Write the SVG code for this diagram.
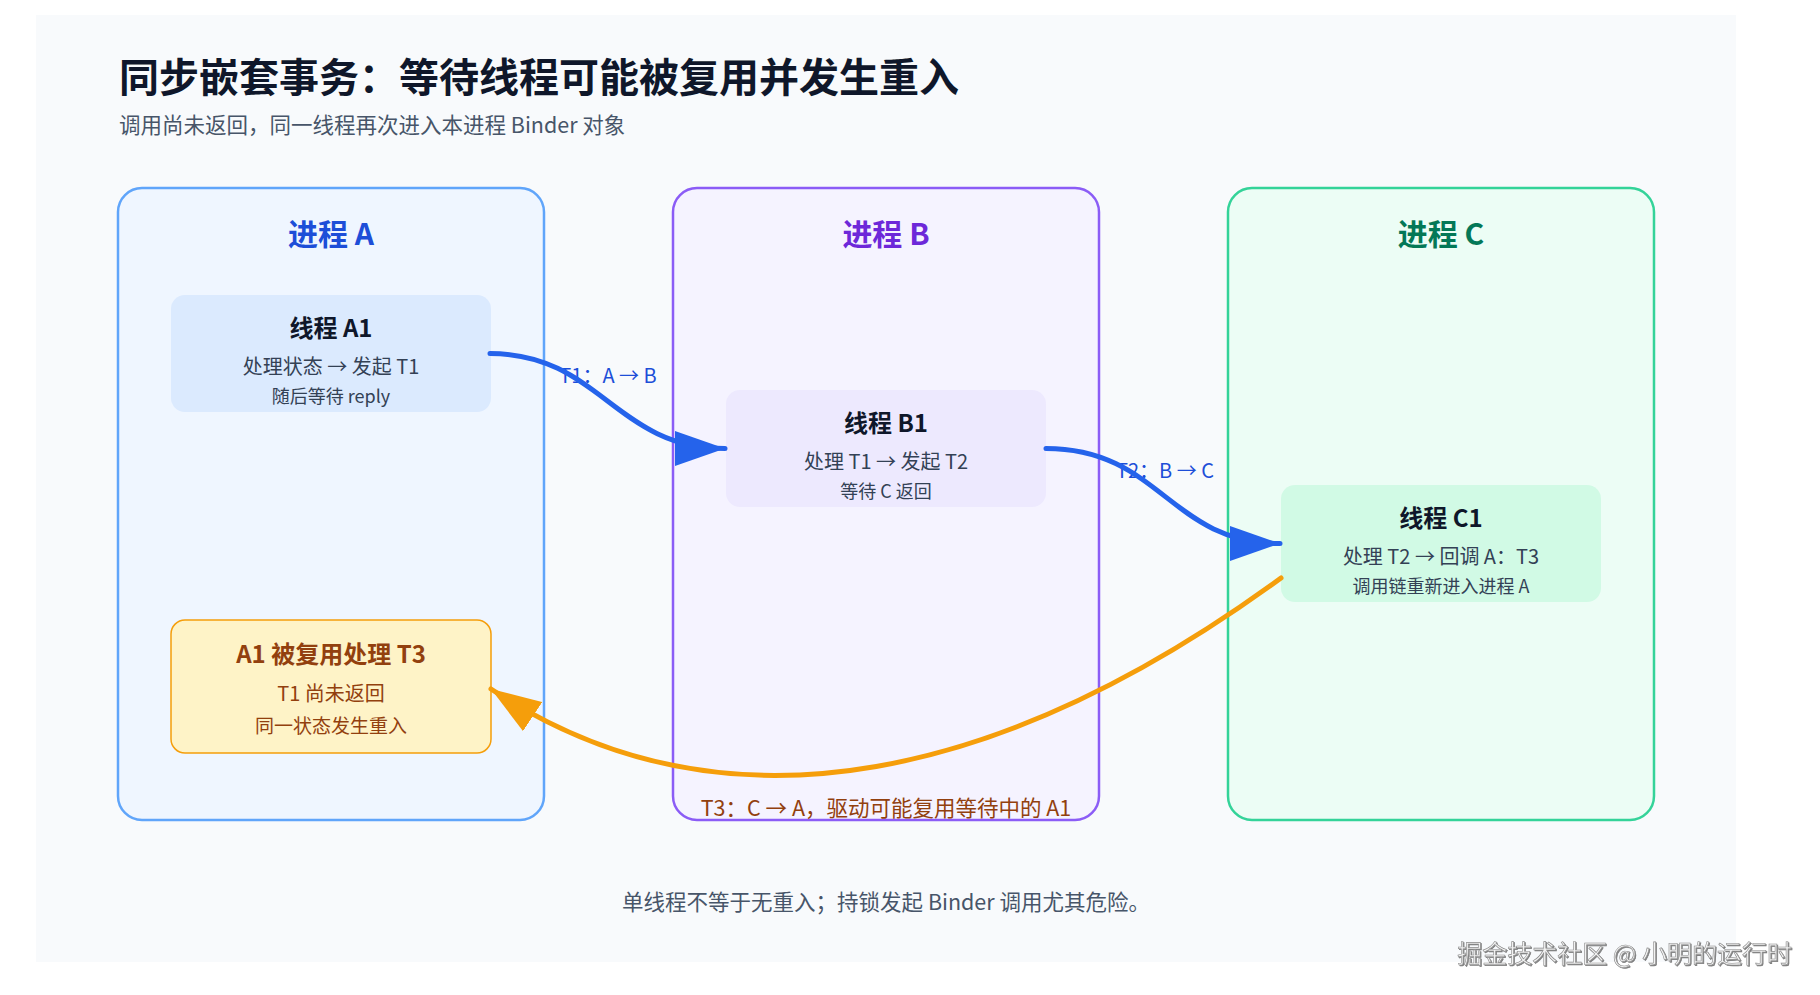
<svg xmlns="http://www.w3.org/2000/svg" width="1820" height="995" viewBox="0 0 1820 995">
<defs>
<style>
text{font-family:"Noto Sans CJK SC","Noto Sans",sans-serif;}
.title{font-size:40px;font-weight:700;fill:#0f172a;}
.sub{font-size:21.5px;fill:#475569;}
.proc{stroke-width:2.5;}
.ptitle{font-size:30px;font-weight:700;text-anchor:middle;}
.thr{stroke:none;}
.tt{font-size:24px;font-weight:700;fill:#0f172a;text-anchor:middle;}
.t2{font-size:20px;fill:#334155;text-anchor:middle;}
.t3{font-size:18px;fill:#334155;text-anchor:middle;}
.y2{font-size:20px;fill:#92400e;text-anchor:middle;}
.y3{font-size:19px;fill:#92400e;text-anchor:middle;}
.lbl{font-size:20px;fill:#1d4ed8;text-anchor:middle;}
.lbl3{font-size:21.5px;fill:#92400e;text-anchor:middle;}
.foot{font-size:21.5px;fill:#475569;text-anchor:middle;}
.blue{fill:none;stroke:#2563eb;stroke-width:5;stroke-linecap:round;}
.orange{fill:none;stroke:#f59e0b;stroke-width:5;stroke-linecap:round;}
.wm{font-size:25px;fill:#f2f2f2;stroke:#8a8a8a;stroke-width:0.6;text-anchor:end;}
</style>
<marker id="arrBlue" viewBox="0 0 10 7" markerWidth="10" markerHeight="7" refX="10" refY="3.5" orient="auto" markerUnits="strokeWidth">
<path d="M0,0 L10,3.5 L0,7 z" fill="#2563eb"/>
</marker>
<marker id="arrOrange" viewBox="0 0 10 7" markerWidth="10" markerHeight="7" refX="10" refY="3.5" orient="auto" markerUnits="strokeWidth">
<path d="M0,0 L10,3.5 L0,7 z" fill="#f59e0b"/>
</marker>
<filter id="wmShadow" x="-5%" y="-20%" width="110%" height="140%">
<feDropShadow dx="1" dy="1" stdDeviation="0.6" flood-color="#444" flood-opacity="0.7"/>
</filter>
</defs>

<rect x="0" y="0" width="1820" height="995" fill="#ffffff"/>
<rect id="panel" x="36" y="15" width="1700" height="947" fill="#f8fafc"/>

<g id="heading">
<text class="title" x="119" y="92">同步嵌套事务：等待线程可能被复用并发生重入</text>
<text class="sub" x="119" y="133">调用尚未返回，同一线程再次进入本进程 Binder 对象</text>
</g>

<g id="processA">
<rect class="proc" x="118" y="188" width="426" height="632" rx="24" fill="#eff6ff" stroke="#60a5fa"/>
<text class="ptitle" x="331" y="245" fill="#1d4ed8">进程 A</text>
</g>
<g id="processB">
<rect class="proc" x="673" y="188" width="426" height="632" rx="24" fill="#f5f3ff" stroke="#8b5cf6"/>
<text class="ptitle" x="886" y="245" fill="#6d28d9">进程 B</text>
</g>
<g id="processC">
<rect class="proc" x="1228" y="188" width="426" height="632" rx="24" fill="#ecfdf5" stroke="#34d399"/>
<text class="ptitle" x="1441" y="245" fill="#047857">进程 C</text>
</g>

<g id="threadA1">
<rect class="thr" x="171" y="295" width="320" height="117" rx="14" fill="#dbeafe"/>
<text class="tt" x="331" y="337">线程 A1</text>
<text class="t2" x="331" y="374">处理状态 → 发起 T1</text>
<text class="t3" x="331" y="403">随后等待 reply</text>
</g>
<g id="threadB1">
<rect class="thr" x="726" y="390" width="320" height="117" rx="14" fill="#ede9fe"/>
<text class="tt" x="886" y="432">线程 B1</text>
<text class="t2" x="886" y="469">处理 T1 → 发起 T2</text>
<text class="t3" x="886" y="498">等待 C 返回</text>
</g>
<g id="threadC1">
<rect class="thr" x="1281" y="485" width="320" height="117" rx="14" fill="#d1fae5"/>
<text class="tt" x="1441" y="527">线程 C1</text>
<text class="t2" x="1441" y="564">处理 T2 → 回调 A：T3</text>
<text class="t3" x="1441" y="593">调用链重新进入进程 A</text>
</g>
<g id="threadA1reused">
<rect x="171" y="620" width="320" height="133" rx="14" fill="#fef3c7" stroke="#f59e0b" stroke-width="1.5"/>
<text class="tt" x="331" y="663" style="fill:#92400e">A1 被复用处理 T3</text>
<text class="y2" x="331" y="701">T1 尚未返回</text>
<text class="y3" x="331" y="733">同一状态发生重入</text>
</g>

<g id="connectors">
<text class="lbl" x="608" y="383">T1：A → B</text>
<path class="blue" d="M490,353.5 C600,353.5 615,448.5 725,448.5" marker-end="url(#arrBlue)"/>
<text class="lbl" x="1165" y="478">T2：B → C</text>
<path class="blue" d="M1046,448.5 C1160,448.5 1170,543.5 1280,543.5" marker-end="url(#arrBlue)"/>
<path class="orange" d="M1281,578 C1014,773 732,848.5 491,689" marker-end="url(#arrOrange)"/>
<text class="lbl3" x="886" y="816">T3：C → A，驱动可能复用等待中的 A1</text>
</g>

<text class="foot" x="886" y="910">单线程不等于无重入；持锁发起 Binder 调用尤其危险。</text>

<text class="wm" x="1792" y="963" filter="url(#wmShadow)">掘金技术社区 @ 小明的运行时</text>
</svg>
